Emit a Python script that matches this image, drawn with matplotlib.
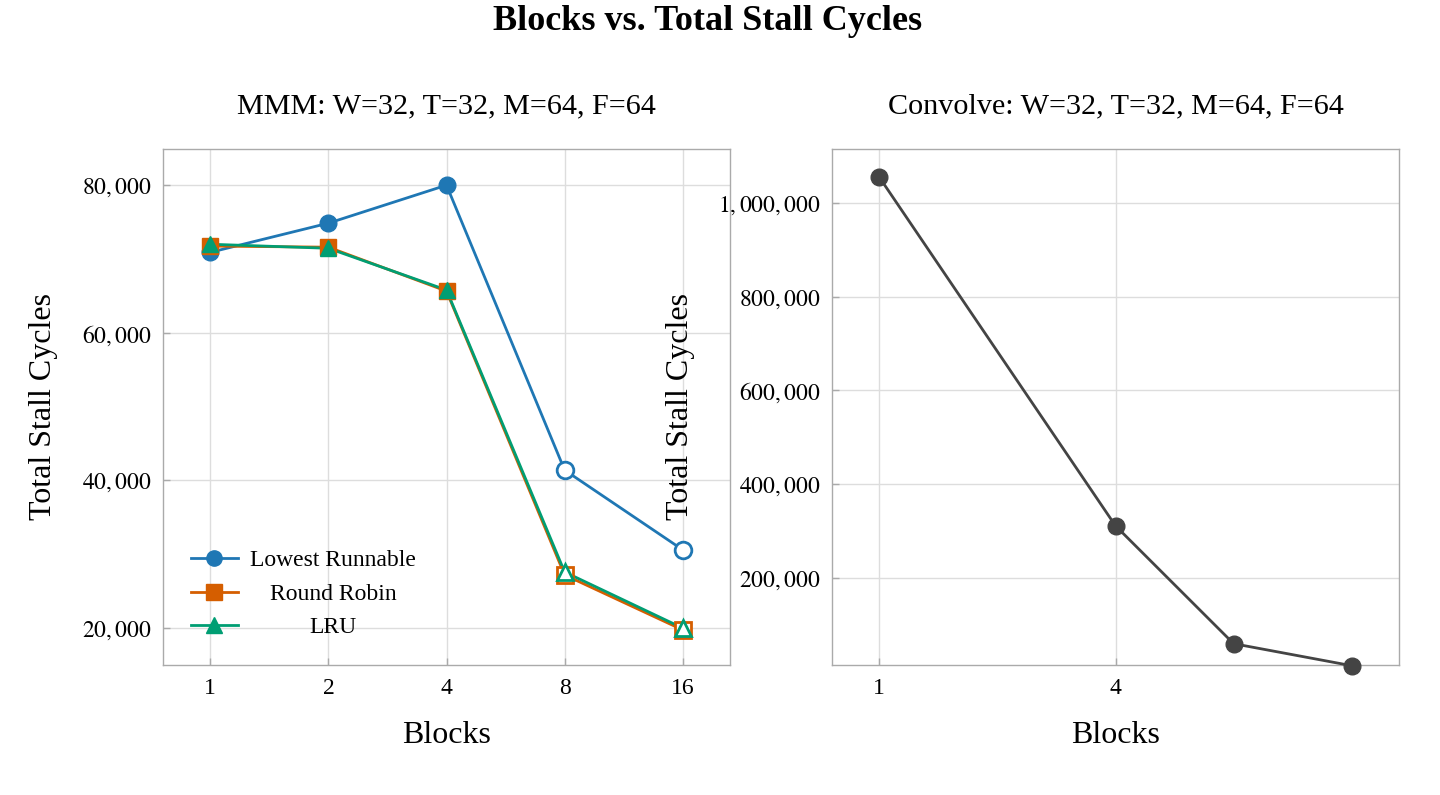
import matplotlib
matplotlib.use("Agg")
import matplotlib.pyplot as plt
from matplotlib.ticker import FuncFormatter, NullLocator

plt.rcParams['font.family'] = ['Liberation Serif', 'DejaVu Serif']
plt.rcParams['mathtext.fontset'] = 'stix'

# ---------------- data ----------------
blocks = [1, 2, 4, 8, 16]
lowest_runnable = [70900, 74850, 80000, 41400, 30600]
round_robin = [71750, 71600, 65650, 27200, 19750]
lru = [72000, 71450, 65800, 27600, 20000]
mmm_series = ["Lowest Runnable", "Round Robin", "LRU"]

conv_blocks = [1, 4, 8, 16]
conv_stall = [1055000, 311000, 59500, 12500]
conv_xticks = [1, 4]

title = "Blocks vs. Total Stall Cycles"
left_title = "MMM: W=32, T=32, M=64, F=64"
right_title = "Convolve: W=32, T=32, M=64, F=64"

colors = ["#1f77b4", "#d55e00", "#009e73"]
markers = ["o", "s", "^"]
filled_count = 3  # first three points filled, later hollow

W, H = 1440, 795
fig = plt.figure(figsize=(W / 100, H / 100), dpi=100)
axL = fig.add_axes([163 / W, (H - 665) / H, 567 / W, 516 / H])
axR = fig.add_axes([832 / W, (H - 665) / H, 567 / W, 516 / H])

fmt = FuncFormatter(lambda v, p: "${:,.0f}$".format(v))

for ax in (axL, axR):
    ax.set_xscale('log', base=2)
    ax.set_xlim(2 ** -0.4, 2 ** 4.4)
    ax.xaxis.set_minor_locator(NullLocator())
    ax.grid(True, color="#dddddd", lw=1.0)
    ax.set_axisbelow(True)
    for s in ax.spines.values():
        s.set_color("#aaaaaa")
        s.set_linewidth(1.0)
    ax.tick_params(direction='in', length=5, color="#aaaaaa", labelsize=17,
                   width=1.0, pad=9)
    ax.tick_params(axis='y', pad=8)
    ax.yaxis.set_major_formatter(fmt)
    ax.set_xlabel("Blocks", fontsize=23, labelpad=16.5)
    ax.set_ylabel("Total Stall Cycles", fontsize=23, labelpad=17)

# left panel
series = [lowest_runnable, round_robin, lru]
for name, vals, c, m in zip(mmm_series, series, colors, markers):
    ax = axL
    ax.plot(blocks, vals, color=c, lw=2.0, zorder=2)
    ax.plot(blocks[:filled_count], vals[:filled_count], ls='none', marker=m,
            ms=12, color=c, mec=c, zorder=3)
    ax.plot(blocks[filled_count:], vals[filled_count:], ls='none', marker=m,
            ms=12, mfc='white', mec=c, mew=2.0, zorder=3)
    ax.plot([], [], color=c, lw=2.0, marker=m, ms=11, label=name)

axL.set_xticks(blocks)
axL.xaxis.set_major_formatter(FuncFormatter(lambda v, p: "{:g}".format(v)))
axL.set_ylim(15000, 84900)
axL.set_yticks([20000, 40000, 60000, 80000])
axL.set_title(left_title, fontsize=21.7, pad=26)

leg = axL.legend(loc='lower left', frameon=False, fontsize=17,
                 bbox_to_anchor=(0.02, 0.02), handlelength=2.0,
                 labelspacing=0.5, borderaxespad=0.3, handletextpad=0.5)

# right panel
axR.plot(conv_blocks, conv_stall, color="#444444", lw=2.0, marker='o', ms=12,
         clip_on=False, zorder=3)
axR.set_xticks(conv_xticks)
axR.xaxis.set_major_formatter(FuncFormatter(lambda v, p: "{:g}".format(v)))
axR.set_ylim(14000, 1115000)
axR.set_yticks([200000, 400000, 600000, 800000, 1000000])
axR.set_title(right_title, fontsize=21.7, pad=26)

fig.suptitle(title, fontsize=26, fontweight='bold', x=0.4915, y=0.994)

# center legend labels relative to the widest one
fig.canvas.draw()
renderer = fig.canvas.get_renderer()
texts = leg.get_texts()
widths = [t.get_window_extent(renderer).width for t in texts]
wmax = max(widths)
for t, w in zip(texts, widths):
    t.set_position(((wmax - w) / 2, 0))

fig.savefig("out.png", dpi=100)
